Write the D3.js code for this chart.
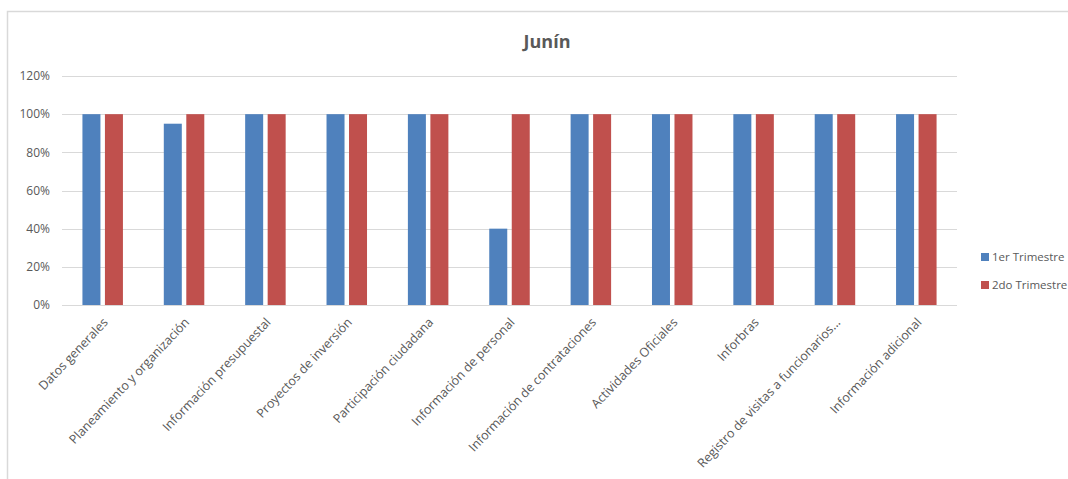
<!DOCTYPE html>
<html><head><meta charset="utf-8">
<script src="https://cdn.jsdelivr.net/npm/d3@7/dist/d3.min.js"></script>
<style>
body{margin:0;background:#fff;}
svg{display:block;}
text{font-family:"Open Sans","Noto Sans",sans-serif;fill:#595959;}
</style></head><body>
<svg id="c" width="1068" height="479"></svg>
<script>
const categories = ["Datos generales","Planeamiento y organización","Información presupuestal","Proyectos de inversión","Participación ciudadana","Información de personal","Información de contrataciones","Actividades Oficiales","Inforbras","Registro de visitas a funcionarios...","Información adicional"];
const seriesNames = ["1er Trimestre","2do Trimestre"];
const trim1 = [1.00,0.95,1.00,1.00,1.00,0.40,1.00,1.00,1.00,1.00,1.00];
const trim2 = [1.00,1.00,1.00,1.00,1.00,1.00,1.00,1.00,1.00,1.00,1.00];
const yTicks = [0,0.2,0.4,0.6,0.8,1.0,1.2];
const colors = ["#4F81BD","#C0504D"];
const title = "Junín";

(function(){
const svg = d3.select("#c");
svg.append("rect").attr("x",7.5).attr("y",11.5).attr("width",1100).attr("height",500)
  .attr("fill","none").attr("stroke","#d9d9d9").attr("stroke-width",1.5);

const pL=62, pR=957, pT=76, pB=305;
const x = d3.scaleBand().domain(categories).range([pL,pR]);
const y = d3.scaleLinear().domain([0,1.2]).range([pB,pT]);
const bw = 18, gap = 4.5;
const sub = d3.scaleOrdinal().domain(seriesNames).range([-(gap/2+bw), gap/2]);

svg.append("g").selectAll("line").data(yTicks).join("line")
  .attr("x1",pL).attr("x2",pR)
  .attr("y1",d=>Math.round(y(d))+0.5).attr("y2",d=>Math.round(y(d))+0.5)
  .attr("stroke","#d9d9d9").attr("stroke-width",1);

svg.append("g").selectAll("text").data(yTicks).join("text")
  .attr("x",50).attr("y",d=>y(d)).attr("dy","0.35em").attr("text-anchor","end")
  .style("font-size","12px").text(d=>d3.format(".0%")(d));

const data = [trim1,trim2];
data.forEach((vals,si)=>{
  svg.append("g").selectAll("rect").data(vals).join("rect")
    .attr("x",(d,i)=>x(categories[i])+x.bandwidth()/2+sub(seriesNames[si]))
    .attr("width",bw)
    .attr("y",d=>y(d)).attr("height",d=>y(0)-y(d))
    .attr("fill",colors[si]);
});

svg.append("g").selectAll("text").data(categories).join("text")
  .attr("transform",d=>`translate(${x(d)+x.bandwidth()/2+6},${pB+18}) rotate(-46.5)`)
  .attr("text-anchor","end").style("font-size","12.5px").text(d=>d);

svg.append("text").attr("x",547).attr("y",48).attr("text-anchor","middle")
  .style("font-size","18px").style("font-weight","bold").text(title);

const lg = svg.append("g");
seriesNames.forEach((n,i)=>{
  const ly = 257 + i*28;
  lg.append("rect").attr("x",981).attr("y",ly-4).attr("width",8).attr("height",8).attr("fill",colors[i]);
  lg.append("text").attr("x",992).attr("y",ly).attr("dy","0.35em").style("font-size","11.5px").text(n);
});
})();
</script></body></html>
